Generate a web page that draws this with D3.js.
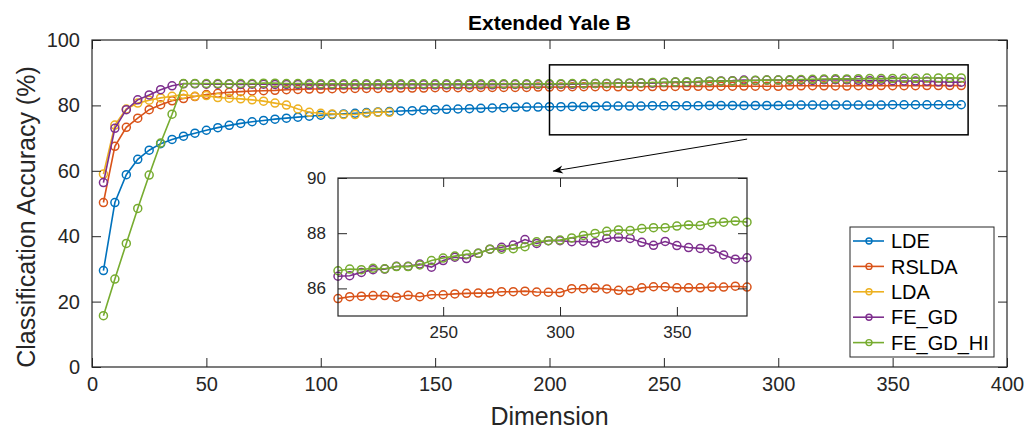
<!DOCTYPE html>
<html>
<head>
<meta charset="utf-8">
<script src="https://cdn.jsdelivr.net/npm/d3@7"></script>
<style>
  body { margin: 0; background: #fff; }
  svg { font-family: "Liberation Sans", Arial, Helvetica, sans-serif; }
  .axis text { fill: #262626; }
  .axis line { stroke: #262626; }
</style>
</head>
<body>
<svg id="chart" width="1025" height="432"></svg>
<script>
// Chart data
var dims = [5, 10, 15, 20, 25, 30, 35, 40, 45, 50, 55, 60, 65, 70, 75, 80, 85, 90, 95, 100,
    105, 110, 115, 120, 125, 130, 135, 140, 145, 150, 155, 160, 165, 170, 175, 180, 185, 190, 195, 200,
    205, 210, 215, 220, 225, 230, 235, 240, 245, 250, 255, 260, 265, 270, 275, 280, 285, 290, 295, 300,
    305, 310, 315, 320, 325, 330, 335, 340, 345, 350, 355, 360, 365, 370, 375, 380];

var lde = [29.5, 50.3, 58.8, 63.5, 66.3, 68.3, 69.6, 70.6, 71.5, 72.4, 73.2, 73.9, 74.5, 75.0, 75.4, 75.8, 76.1, 76.4, 76.7, 77.0,
    77.2, 77.4, 77.6, 77.8, 78.0, 78.1, 78.3, 78.4, 78.6, 78.7, 78.8, 78.9, 79.0, 79.1, 79.2, 79.3, 79.4, 79.5, 79.5, 79.6,
    79.6, 79.7, 79.7, 79.7, 79.8, 79.8, 79.8, 79.8, 79.9, 79.9, 79.9, 79.9, 79.9, 80.0, 80.0, 80.0, 80.0, 80.0, 80.0, 80.0,
    80.1, 80.1, 80.1, 80.1, 80.1, 80.1, 80.1, 80.1, 80.1, 80.2, 80.2, 80.2, 80.2, 80.2, 80.2, 80.2];

var rslda = [50.3, 67.5, 73.3, 76.1, 78.7, 80.2, 81.4, 82.1, 82.7, 83.3, 83.7, 84.0, 84.2, 84.4, 84.5, 84.6, 84.8, 84.9, 85.0, 85.0,
    85.1, 85.1, 85.2, 85.2, 85.2, 85.3, 85.3, 85.3, 85.3, 85.4, 85.4, 85.4, 85.4, 85.5, 85.5, 85.5, 85.5, 85.5, 85.6, 85.6,
    85.63, 85.70, 85.72, 85.74, 85.74, 85.68, 85.75, 85.70, 85.77, 85.77, 85.80, 85.82, 85.83, 85.83, 85.88, 85.88, 85.90, 85.87, 85.86, 85.85,
    85.99, 85.99, 86.01, 85.98, 85.93, 85.92, 86.02, 86.06, 86.06, 86.02, 86.02, 86.02, 86.05, 86.05, 86.08, 86.05];

// LDA only runs up to dimension 130
var lda = [59.0, 74.0, 78.9, 80.7, 81.6, 82.3, 82.8, 83.3, 82.8, 83.0, 82.4, 82.2, 82.0, 81.7, 81.3, 80.7, 80.1, 78.9, 77.9, 77.6,
    77.4, 77.2, 77.2, 77.6, 77.9, 77.9];

var feGd = [56.4, 73.0, 78.7, 81.7, 83.2, 84.8, 86.0, 86.6, 86.6, 86.5, 86.5, 86.5, 86.4, 86.5, 86.5, 86.4, 86.4, 86.4, 86.3, 86.3,
    86.3, 86.3, 86.3, 86.3, 86.3, 86.3, 86.3, 86.3, 86.3, 86.3, 86.3, 86.3, 86.3, 86.3, 86.3, 86.4, 86.4, 86.4, 86.4, 86.4,
    86.44, 86.46, 86.58, 86.68, 86.70, 86.80, 86.80, 86.88, 86.77, 87.01, 87.13, 87.08, 87.27, 87.42, 87.49, 87.57, 87.77, 87.63, 87.73, 87.73,
    87.69, 87.71, 87.65, 87.81, 87.85, 87.81, 87.67, 87.56, 87.70, 87.55, 87.48, 87.45, 87.42, 87.21, 87.06, 87.11];

var feGdHi = [15.7, 26.9, 37.8, 48.5, 58.7, 68.5, 77.3, 86.7, 86.7, 86.7, 86.7, 86.6, 86.7, 86.7, 86.8, 86.8, 86.7, 86.7, 86.7, 86.6,
    86.6, 86.6, 86.6, 86.6, 86.6, 86.6, 86.6, 86.6, 86.6, 86.6, 86.6, 86.6, 86.6, 86.6, 86.6, 86.6, 86.6, 86.6, 86.6, 86.6,
    86.64, 86.70, 86.68, 86.73, 86.71, 86.79, 86.79, 86.85, 87.01, 87.10, 87.17, 87.24, 87.27, 87.42, 87.42, 87.44, 87.51, 87.69, 87.73, 87.75,
    87.83, 87.92, 87.99, 88.07, 88.12, 88.10, 88.17, 88.20, 88.20, 88.26, 88.30, 88.28, 88.38, 88.40, 88.44, 88.40];

var seriesNames = ["LDE", "RSLDA", "LDA", "FE_GD", "FE_GD_HI"];
var seriesValues = [lde, rslda, lda, feGd, feGdHi];
var colors = ["#0072BD", "#D95319", "#EDB120", "#7E2F8E", "#77AC30"];

var xTicks = [0, 50, 100, 150, 200, 250, 300, 350, 400];
var yTicks = [0, 20, 40, 60, 80, 100];
var insetXTicks = [250, 300, 350];
var insetYTicks = [86, 88, 90];

// zoom box and arrow, in data units of the main axes
var zoomBox = {x0: 200, x1: 383, y0: 71, y1: 92.4};
var arrow = {x0: 286.4, y0: 69.7, x1: 201.5, y1: 59.9};

// layout
var margin = {top: 40, right: 18, bottom: 65, left: 92};
var width = 1025, height = 432;
var w = width - margin.left - margin.right;
var h = height - margin.top - margin.bottom;

var svg = d3.select("#chart");

var series = seriesNames.map(function(name, i) {
    return {
        name: name,
        color: colors[i],
        points: seriesValues[i].map(function(v, j) { return {x: dims[j], y: v}; })
    };
});

var x = d3.scaleLinear().domain([0, 400]).range([0, w]);
var y = d3.scaleLinear().domain([0, 100]).range([h, 0]);

var chart = svg.append("g")
    .attr("transform", "translate(" + margin.left + "," + margin.top + ")");

function drawAxes(g, xs, ys, xt, yt, iw, ih, fontSize) {
    // bottom + left with labels, top + right ticks only (ticks point inward)
    g.append("g").attr("class", "axis")
        .attr("transform", "translate(0," + ih + ")")
        .call(d3.axisBottom(xs).tickValues(xt).tickSize(-9).tickSizeOuter(0).tickPadding(10).tickFormat(d3.format("d")))
        .call(function(a) { a.select(".domain").remove(); })
        .selectAll("text").style("font-size", fontSize + "px");
    g.append("g").attr("class", "axis")
        .call(d3.axisLeft(ys).tickValues(yt).tickSize(-9).tickSizeOuter(0).tickPadding(12).tickFormat(d3.format("d")))
        .call(function(a) { a.select(".domain").remove(); })
        .selectAll("text").style("font-size", fontSize + "px");
    g.append("g").attr("class", "axis")
        .call(d3.axisTop(xs).tickValues(xt).tickSize(-9).tickSizeOuter(0).tickFormat(""))
        .call(function(a) { a.select(".domain").remove(); });
    g.append("g").attr("class", "axis")
        .attr("transform", "translate(" + iw + ",0)")
        .call(d3.axisRight(ys).tickValues(yt).tickSize(-9).tickSizeOuter(0).tickFormat(""))
        .call(function(a) { a.select(".domain").remove(); });
    g.append("rect")
        .attr("width", iw).attr("height", ih)
        .attr("fill", "none")
        .attr("stroke", "#262626")
        .attr("stroke-width", 1.2);
}

function drawSeries(g, xs, ys, data, r) {
    var line = d3.line().x(function(d) { return xs(d.x); }).y(function(d) { return ys(d.y); });
    data.forEach(function(s) {
        var sg = g.append("g");
        sg.append("path")
            .datum(s.points)
            .attr("d", line)
            .attr("fill", "none")
            .attr("stroke", s.color)
            .attr("stroke-width", 1.6);
        sg.selectAll("circle").data(s.points).enter().append("circle")
            .attr("cx", function(d) { return xs(d.x); })
            .attr("cy", function(d) { return ys(d.y); })
            .attr("r", r)
            .attr("fill", "none")
            .attr("stroke", s.color)
            .attr("stroke-width", 1.5);
    });
}

chart.append("rect").attr("width", w).attr("height", h).attr("fill", "#fff");
drawSeries(chart, x, y, series, 4);
drawAxes(chart, x, y, xTicks, yTicks, w, h, 20);

// title
svg.append("text")
    .attr("x", margin.left + w / 2)
    .attr("y", 30)
    .attr("text-anchor", "middle")
    .style("font-size", "21px")
    .style("font-weight", "bold")
    .style("fill", "#000")
    .text("Extended Yale B");

// axis labels
svg.append("text")
    .attr("x", margin.left + w / 2)
    .attr("y", 425)
    .attr("text-anchor", "middle")
    .style("font-size", "25px")
    .style("fill", "#262626")
    .text("Dimension");

svg.append("text")
    .attr("transform", "translate(35,217) rotate(-90)")
    .attr("text-anchor", "middle")
    .style("font-size", "25px")
    .style("fill", "#262626")
    .text("Classification Accuracy (%)");

// zoom rectangle + arrow
chart.append("rect")
    .attr("x", x(zoomBox.x0))
    .attr("y", y(zoomBox.y1))
    .attr("width", x(zoomBox.x1) - x(zoomBox.x0))
    .attr("height", y(zoomBox.y0) - y(zoomBox.y1))
    .attr("fill", "none")
    .attr("stroke", "#000")
    .attr("stroke-width", 1.5);

svg.append("defs").append("marker")
    .attr("id", "head")
    .attr("viewBox", "0 -5 10 10")
    .attr("refX", 10).attr("refY", 0)
    .attr("markerWidth", 14).attr("markerHeight", 10)
    .attr("markerUnits", "userSpaceOnUse")
    .attr("orient", "auto")
    .append("path")
    .attr("d", "M0,-4L10,0L0,4L3,0Z")
    .attr("fill", "#000");

chart.append("line")
    .attr("x1", x(arrow.x0)).attr("y1", y(arrow.y0))
    .attr("x2", x(arrow.x1)).attr("y2", y(arrow.y1))
    .attr("stroke", "#000")
    .attr("stroke-width", 1)
    .attr("marker-end", "url(#head)");

// inset axes
var inset = {left: 338, top: 178, width: 409, height: 138};
var ix = d3.scaleLinear().domain([205, 380]).range([0, inset.width]);
var iy = d3.scaleLinear().domain([85, 90]).range([inset.height, 0]);

var ig = svg.append("g")
    .attr("transform", "translate(" + inset.left + "," + inset.top + ")");
ig.append("rect").attr("width", inset.width).attr("height", inset.height).attr("fill", "#fff");

var insetSeries = series.map(function(s) {
    return {
        name: s.name,
        color: s.color,
        points: s.points.filter(function(d) { return d.x >= 205 && d.y >= 85 && d.y <= 90; })
    };
});
drawSeries(ig, ix, iy, insetSeries, 4);
drawAxes(ig, ix, iy, insetXTicks, insetYTicks, inset.width, inset.height, 17);

// legend
var legend = svg.append("g").attr("transform", "translate(850,227)");
legend.append("rect")
    .attr("width", 144).attr("height", 130)
    .attr("fill", "#fff")
    .attr("stroke", "#262626")
    .attr("stroke-width", 1);

var items = legend.selectAll(".item").data(series).enter().append("g")
    .attr("class", "item")
    .attr("transform", function(d, i) { return "translate(0," + (14 + i * 25.4) + ")"; });
items.append("line")
    .attr("x1", 3).attr("x2", 34)
    .attr("stroke", function(d) { return d.color; })
    .attr("stroke-width", 1.6);
items.append("circle")
    .attr("cx", 19).attr("r", 3)
    .attr("fill", "none")
    .attr("stroke", function(d) { return d.color; })
    .attr("stroke-width", 1.4);
items.append("text")
    .attr("x", 41).attr("dy", "0.36em")
    .style("font-size", "20px")
    .style("fill", "#000")
    .text(function(d) { return d.name; });
</script>
</body>
</html>
